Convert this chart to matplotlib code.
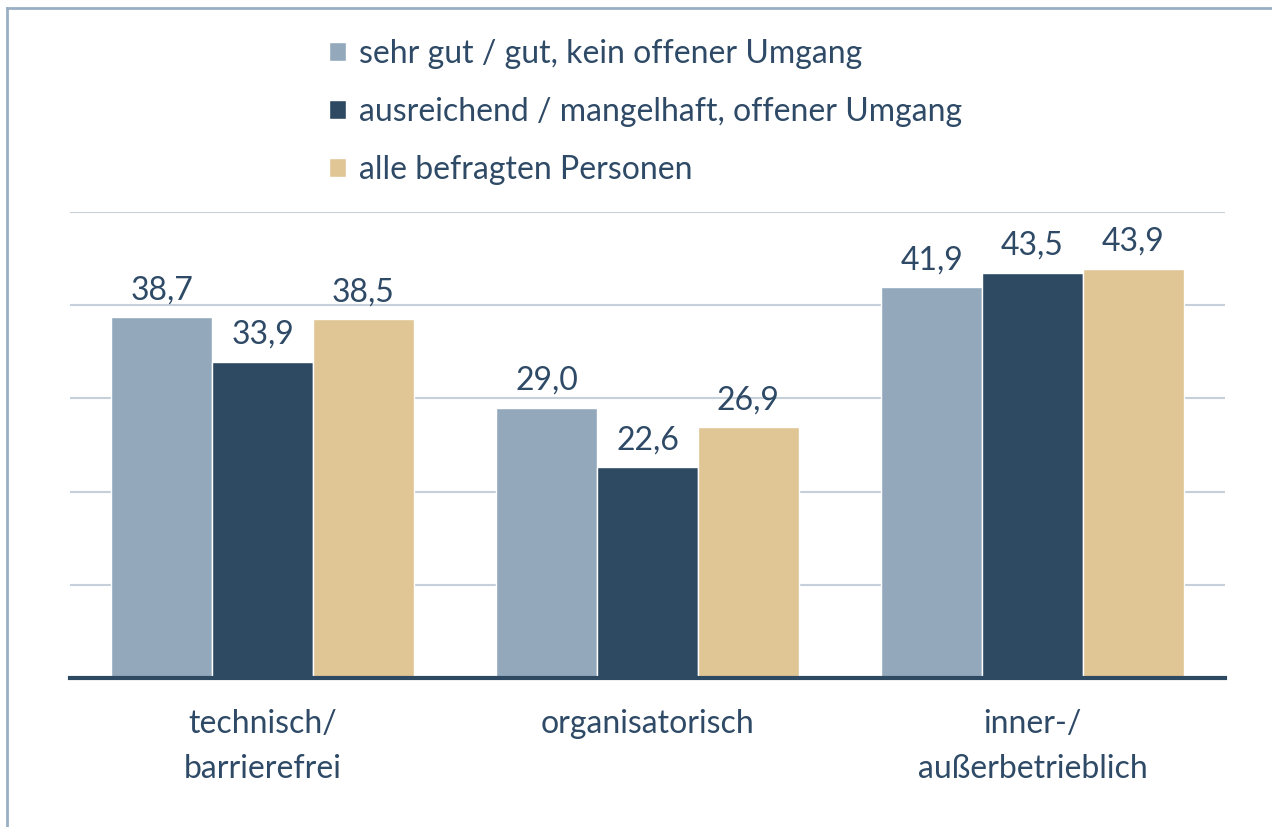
import matplotlib.pyplot as plt
import numpy as np
from matplotlib.lines import Line2D

plt.rcParams['font.family'] = ['Lato', 'DejaVu Sans']

categories = ['technisch/\nbarrierefrei', 'organisatorisch', 'inner-/\naußerbetrieblich']
series_names = ['sehr gut / gut, kein offener Umgang',
                'ausreichend / mangelhaft, offener Umgang',
                'alle befragten Personen']
gut = [38.7, 29.0, 41.9]
mangelhaft = [33.9, 22.6, 43.5]
alle = [38.5, 26.9, 43.9]

colors = ['#94A8BC', '#2E4A63', '#E0C595']
text_col = '#2E4A66'
fs = 23

fig = plt.figure(figsize=(12.72, 8.27), dpi=100)
ax = fig.add_axes([70/1272, 1-678/827, 1155/1272, 466/827])

x = np.arange(len(categories))
w = 0.262
for i, (vals, name) in enumerate(zip([gut, mangelhaft, alle], series_names)):
    bars = ax.bar(x + (i-1)*w, vals, w, color=colors[i], label=name,
                  edgecolor='white', linewidth=1, zorder=3)
    for b, v in zip(bars, vals):
        ax.text(b.get_x() + b.get_width()/2, v + 1.3, f'{v:.1f}'.replace('.', ','),
                ha='center', va='bottom', fontsize=fs, color=text_col)

ax.set_xlim(-0.5, 2.5)
ax.set_ylim(0, 50)
ax.set_yticks([10, 20, 30, 40, 50])
ax.yaxis.grid(True, color='#C5D0DA', linewidth=1.5, zorder=0)
ax.tick_params(left=False, bottom=False, labelleft=False, labelbottom=False)
for s in ['top', 'right', 'left']:
    ax.spines[s].set_visible(False)
ax.spines['bottom'].set_color('#2E4A63')
ax.spines['bottom'].set_linewidth(3)
ax.spines['bottom'].set_zorder(4)

for xi, c in zip(x, categories):
    ax.text(xi, -3.35, c, ha='center', va='top', fontsize=fs, color=text_col,
            linespacing=1.6)

fig.legend(loc='upper left', bbox_to_anchor=(300/1272, 1-10/827), frameon=False,
           fontsize=fs, handlelength=0.55, handleheight=0.55, handletextpad=0.4,
           labelspacing=0.88, labelcolor=text_col)

# frame around the chart
fc = '#9AAFC4'
fig.add_artist(Line2D([7/1272, 7/1272], [0, 1-8/827], color=fc, lw=2))
fig.add_artist(Line2D([7/1272, 1], [1-8/827, 1-8/827], color=fc, lw=2))

fig.savefig('out.png', dpi=100)
